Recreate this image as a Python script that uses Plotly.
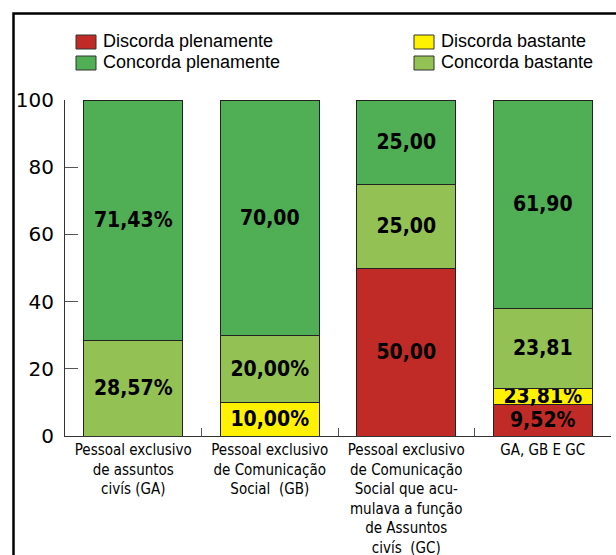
import plotly.graph_objects as go

categories = [
    "Pessoal exclusivo<br>de assuntos<br>civís (GA)",
    "Pessoal exclusivo<br>de Comunicação<br>Social  (GB)",
    "Pessoal exclusivo<br>de Comunicação<br>Social que acu-<br>mulava a função<br>de Assuntos<br>civís  (GC)",
    "GA, GB E GC",
]
cat_ids = ["GA", "GB", "GC", "ALL"]

discorda_plen = [0, 0, 50.00, 9.52]
discorda_bast = [0, 10.00, 0, 4.76]
concorda_bast = [28.57, 20.00, 25.00, 23.81]
concorda_plen = [71.43, 70.00, 25.00, 61.90]

lbl_discorda_plen = ["", "", "50,00", "9,52%"]
lbl_discorda_bast = ["", "10,00%", "", "23,81%"]
lbl_concorda_bast = ["28,57%", "20,00%", "25,00", "23,81"]
lbl_concorda_plen = ["71,43%", "70,00", "25,00", "61,90"]

y_ticks = [0, 20, 40, 60, 80, 100]

W, H = 616, 555
ML, MR, MT, MB = 65, 5, 100, 119

series = [
    ("Discorda plenamente", discorda_plen, lbl_discorda_plen, "#C12B27"),
    ("Discorda bastante", discorda_bast, lbl_discorda_bast, "#FFF100"),
    ("Concorda bastante", concorda_bast, lbl_concorda_bast, "#94C153"),
    ("Concorda plenamente", concorda_plen, lbl_concorda_plen, "#50AE54"),
]

fig = go.Figure()
for name, vals, labels, color in series:
    fig.add_trace(go.Bar(
        x=cat_ids, y=vals, name=name, text=labels,
        marker=dict(color=color, line=dict(color="#222222", width=1)),
        textposition="inside", insidetextanchor="middle",
        textangle=0, constraintext="none", cliponaxis=False,
        textfont=dict(family="DejaVu Sans Condensed", size=21, color="black", weight="bold"),
        width=0.725, showlegend=False,
    ))

fig.update_layout(
    width=W, height=H,
    margin=dict(l=ML, r=MR, t=MT, b=MB, pad=0, autoexpand=False),
    barmode="stack",
    plot_bgcolor="white", paper_bgcolor="white",
    uniformtext=dict(minsize=21, mode="show"),
    font=dict(family="DejaVu Sans", color="black"),
    xaxis=dict(
        type="category", tickmode="array", tickvals=cat_ids, ticktext=categories,
        range=[-0.5, 3.5], showline=True, linecolor="#333333", linewidth=1,
        ticks="inside", tickson="boundaries", ticklen=8, tickcolor="#555555",
        tickfont=dict(family="DejaVu Sans Condensed", size=15, color="black"),
        showgrid=False, zeroline=False, automargin=False,
    ),
    yaxis=dict(
        range=[0, 100], tickmode="array", tickvals=y_ticks,
        showline=True, linecolor="#333333", linewidth=1,
        ticks="inside", ticklen=13, tickcolor="#555555",
        tickfont=dict(family="DejaVu Sans", size=20, color="black"),
        ticklabelstandoff=6,
        showgrid=False, zeroline=False, automargin=False,
    ),
)

# outer frame (extends past the page edges, as in the source image)
def px(xp):
    return (xp - ML) / (W - ML - MR)

def py(yp):
    return (H - MB - yp) / (H - MT - MB)

fig.add_shape(type="rect", xref="paper", yref="paper",
              x0=px(13.5), x1=px(W + 20), y0=py(13.5), y1=py(H + 20),
              line=dict(color="black", width=2.5), fillcolor="rgba(0,0,0,0)", layer="above")

# legend (two columns)
legend_items = [
    ("Discorda plenamente", "#C12B27", 76, 35),
    ("Concorda plenamente", "#50AE54", 76, 56),
    ("Discorda bastante", "#FFF100", 414, 35),
    ("Concorda bastante", "#94C153", 414, 56),
]
for text, color, lx, ly in legend_items:
    fig.add_shape(type="rect", xref="paper", yref="paper",
                  x0=px(lx), x1=px(lx + 20), y0=py(ly + 14), y1=py(ly),
                  line=dict(color="#333333", width=1), fillcolor=color)
    fig.add_annotation(xref="paper", yref="paper", x=px(lx + 25), y=py(ly + 6),
                       text=text, showarrow=False, xanchor="left", yanchor="middle",
                       font=dict(family="Liberation Sans", size=18, color="black"))

fig.write_html("out.html")
